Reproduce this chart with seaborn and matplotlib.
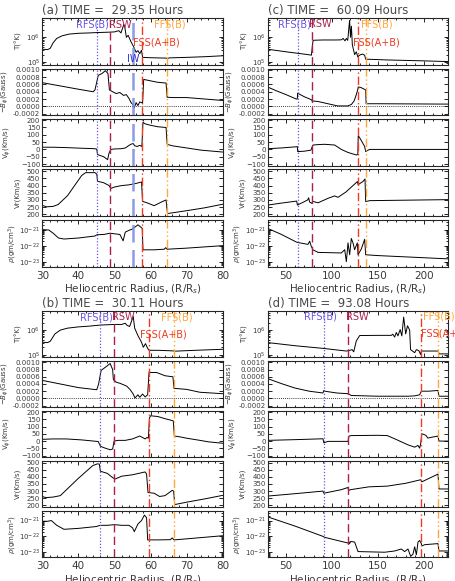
import numpy as np
import seaborn as sns
import matplotlib.pyplot as plt
from matplotlib.ticker import MultipleLocator, FixedLocator, FormatStrFormatter

# ---- panel (a) 29.35 h ----
a_T_r = [30, 31.5, 32.2, 33, 34, 35.5, 37.5, 40, 43, 45, 48, 50, 51.2, 51.8, 52.6, 52.9, 53.3, 53.8, 54.5,
         55.3, 56, 56.5, 57, 57.5, 57.8, 60, 64.3, 64.6, 65.2, 70, 75, 80]
a_T = [3.3e5, 3.2e5, 3.6e5, 6e5, 9e5, 1.15e6, 1.35e6, 1.45e6, 1.5e6, 1.55e6, 1.6e6, 1.65e6, 1.85e6, 1.5e6,
       3.3e6, 2.4e6, 1.0e6, 1.2e6, 7e5, 4.2e5, 2.5e5, 2.9e5, 2.2e5, 3.0e5, 1.55e5, 1.5e5, 1.45e5, 1.38e5,
       1.48e5, 1.55e5, 1.65e5, 1.8e5]
a_B_r = [30, 35, 40, 44.1, 44.6, 45.5, 46.5, 47.5, 48.2, 48.6, 49.5, 50.5, 51.5, 52.5, 53.3, 54, 54.6, 55.1,
         55.5, 56, 56.5, 57, 57.5, 57.8, 58.1, 60, 62, 64.3, 64.6, 66, 70, 75, 80]
a_B = [0.00065, 0.00056, 0.00047, 0.0004, 0.00045, 0.00085, 0.0009, 0.00098, 0.0009, 0.00045, 0.0004,
       0.00035, 0.00038, 0.0003, 0.00032, 0.00022, 0.0001, 0.00005, -0.00004, 0.0001, 0.00002, 0.00012,
       0.0001, 0.0001, 0.00074, 0.0007, 0.00066, 0.00064, 0.00025, 0.00024, 0.00024, 0.0002, 0.00016]
a_V_r = [30, 33, 37, 41, 44.5, 45.1, 45.3, 47, 48.1, 48.5, 49, 50, 52, 53, 54.5, 55.2, 55.6, 56.3, 57, 57.6,
         57.9, 58.5, 60, 62, 64.3, 64.6, 66, 70, 74, 80]
a_V = [15, 15, 12, 8, 5, 2, -35, -50, -70, -25, 0, 3, 5, 10, 35, 40, 25, 20, 28, 20, 185, 175, 165, 155, 150,
       35, 25, 10, -5, -18]
a_Vr_r = [30, 31.2, 33, 34.4, 37, 40.9, 42, 44.6, 45.1, 45.3, 47, 48.5, 49, 50, 52, 54, 56, 57.5, 57.8, 59,
          61, 63, 64.3, 64.5, 64.7, 70, 75, 80]
a_Vr = [262, 252, 255, 268, 330, 470, 490, 490, 480, 430, 420, 400, 380, 390, 400, 405, 415, 425, 290, 280,
        260, 285, 300, 250, 205, 225, 245, 270]
a_rho_r = [30, 31.8, 33, 34.5, 36, 40, 44.6, 45.1, 47, 48.8, 50, 51.5, 52.4, 53, 54, 55, 56.5, 57.2, 57.7,
           57.9, 61, 63.8, 64.2, 64.6, 70, 80]
a_rho = [1.0e-21, 9.5e-22, 6e-22, 3e-22, 2.6e-22, 3e-22, 4e-22, 4.8e-22, 5e-22, 6e-22, 5.5e-22, 5e-22, 2e-22,
         7e-22, 9e-22, 1.1e-21, 2e-21, 1.5e-21, 1.2e-21, 5.5e-23, 5.5e-23, 6e-23, 7.5e-23, 6e-23, 7e-23, 1e-22]

# ---- panel (b) 30.11 h ----
b_T_r = [30, 31.5, 32.2, 33.5, 35, 37, 40, 43, 46, 48, 50, 52, 53, 53.4, 54.2, 55.2, 55.6, 56.5, 57.5, 58,
         58.6, 59.2, 59.6, 62, 66.3, 66.6, 70, 75, 80]
b_T = [3.2e5, 3.1e5, 3.5e5, 7e5, 1.0e6, 1.2e6, 1.35e6, 1.45e6, 1.6e6, 1.65e6, 1.7e6, 1.7e6, 1.9e6, 1.6e6,
       1.4e6, 3.6e6, 1.2e6, 6e5, 3.2e5, 2.0e5, 2.8e5, 1.8e5, 1.5e5, 1.5e5, 1.42e5, 1.38e5, 1.45e5, 1.55e5, 1.65e5]
b_B_r = [30, 35, 40, 45.1, 45.6, 46.3, 47.4, 48.8, 49.5, 49.7, 50.5, 51.5, 52.5, 53.4, 54.3, 55.2, 55.7, 56.5,
         57, 57.8, 58.5, 59.2, 59.6, 60, 61.7, 64, 66.2, 66.5, 70, 73.7, 80]
b_B = [0.0005, 0.0004, 0.0003, 0.00024, 0.0004, 0.00078, 0.00086, 0.00097, 0.0008, 0.00052, 0.00045, 0.00042,
       0.00038, 0.00034, 0.00025, 0.00012, 0.00001, 0.0001, 0.00003, 0.00012, 0.00004, 0.0001, 0.00074,
       0.00072, 0.00072, 0.00063, 0.0006, 0.00028, 0.00025, 0.00017, 0.00013]
b_V_r = [30, 33, 36.6, 41, 45.5, 46.1, 47, 48.8, 49.5, 49.9, 51, 53, 55, 57, 58.5, 59, 59.4, 59.7, 60, 62, 64,
         66.3, 66.6, 68, 70, 73.7, 76, 80]
b_V = [12, 15, 15, 8, -3, -35, -45, -60, -55, 0, 5, 5, 15, 35, 15, 25, 20, 160, 175, 170, 155, 140, 35, 30, 20,
       5, -5, -15]
b_Vr_r = [30, 31, 33, 35, 40, 44, 45.3, 45.8, 46.1, 48, 49.5, 50.2, 52, 55, 58.5, 58.9, 59.3, 61, 62.5, 64, 66,
          66.4, 66.7, 70, 75, 80]
b_Vr = [262, 254, 258, 268, 390, 480, 492, 490, 440, 425, 395, 385, 405, 415, 435, 420, 290, 285, 262, 268,
        305, 300, 205, 222, 245, 270]
b_rho_r = [30, 31.5, 32.5, 34, 36, 40, 45, 46, 48, 50, 52, 54, 55, 55.5, 56.5, 57.5, 58.3, 58.9, 59.2, 62, 65.5,
           66, 66.5, 70, 80]
b_rho = [9e-22, 9e-22, 1e-21, 5e-22, 2.8e-22, 3.2e-22, 4.2e-22, 5e-22, 5e-22, 5.5e-22, 5e-22, 5e-22, 3.5e-22,
         2e-22, 6e-22, 1.0e-21, 2.2e-21, 1.5e-21, 6e-23, 6e-23, 6.2e-23, 8e-23, 6e-23, 7e-23, 1.1e-22]

# ---- panel (c) 60.09 h ----
c_T_r = [30, 50, 74, 77.5, 79.2, 80, 90, 105, 110, 112, 114, 115.5, 117, 119, 120, 121, 122, 124.5, 126.3, 128,
         129, 131, 133, 135.4, 136.5, 140, 160, 200, 226]
c_T = [3.3e5, 2.6e5, 2.0e5, 1.9e5, 7.0e5, 7.6e5, 7.8e5, 7.8e5, 7.9e5, 9e5, 7.2e5, 9e5, 7.5e5, 4.8e6, 1.0e6,
       2.8e6, 5e5, 2.0e5, 2.6e5, 1.6e5, 1.8e5, 2.0e5, 2.1e5, 1.9e5, 1.3e5, 1.3e5, 1.22e5, 1.12e5, 1.05e5]
c_B_r = [30, 40, 50, 61, 62.2, 62.5, 70, 77.5, 78.2, 85, 95.5, 106, 117, 121, 124, 126.3, 127.8, 128.4, 131, 135,
         136.5, 137, 150, 226]
c_B = [0.00053, 0.00042, 0.00032, 0.0002, 0.0002, 0.00036, 0.00026, 0.00018, 0.00015, 0.00013, 0.00007,
       0.00001, 0.00001, 0.00005, 0.00015, 0.00032, 0.00045, 0.00053, 0.00052, 0.00047, 0.00045, 0.00007,
       0.00007, 0.00006]
c_V_r = [30, 45, 61, 62.2, 62.6, 70, 77, 78.2, 79.2, 85, 92, 102.8, 110, 117, 122, 126.3, 128, 128.4, 129.5,
         131.8, 135.4, 136.5, 139, 141, 226]
c_V = [5, 10, 18, 20, -15, -12, -5, 15, 30, 33, 35, 30, 0, -20, -30, -38, -35, 90, 85, 60, 20, -15, -5, 0, 0]
c_Vr_r = [30, 45, 61.5, 62.3, 69.8, 73.5, 74.5, 75.6, 78, 79, 84.7, 95.5, 102.8, 106.4, 115, 127.5, 128.3,
          133.6, 135.8, 136.5, 140.8, 226]
c_Vr = [264, 278, 292, 264, 288, 300, 315, 285, 276, 290, 280, 311, 328, 318, 355, 428, 406, 429, 446, 288,
        295, 302]
c_rho_r = [30, 45, 61, 62.3, 73.8, 75.6, 77.4, 79.2, 84.7, 110, 113.7, 115.5, 117.3, 119.1, 120.9, 122.7,
           124.5, 127.4, 128.2, 131.8, 135.4, 136.5, 150, 226]
c_rho = [1.2e-21, 5e-22, 1.7e-22, 1.6e-22, 1.2e-22, 1.9e-22, 9e-23, 5.5e-23, 3.8e-23, 3.5e-23, 5.6e-23,
         1.0e-23, 1.5e-22, 2.7e-23, 2.8e-22, 1.5e-22, 5.6e-23, 1.5e-22, 2.7e-23, 6.3e-23, 2.5e-22, 2.7e-23,
         2.4e-23, 1.5e-23]

# ---- panel (d) 93.08 h ----
d_T_r = [30, 60, 90, 115.5, 118, 121.8, 123.5, 126.3, 130, 150, 164.4, 166, 168, 169.8, 171.6, 174, 175.8,
         177.8, 180, 182, 184.3, 185.3, 189.8, 191.6, 194.3, 196.3, 197, 205, 215.5, 216.2, 226]
d_T = [3.1e5, 2.3e5, 1.8e5, 1.4e5, 1.45e5, 1.6e5, 1.3e5, 3.6e5, 6e5, 6.1e5, 6.1e5, 6.8e5, 5.2e5, 8e5, 5.8e5,
       1.05e6, 5.8e5, 3.4e6, 7e5, 1.5e6, 1.0e6, 1.6e5, 1.2e5, 1.6e5, 1.45e5, 1.0e5, 1.4e5, 1.4e5, 1.4e5,
       1.07e5, 1.07e5]
d_B_r = [30, 45, 59.3, 75, 90.1, 91, 92, 105, 117.3, 120.9, 150, 182.5, 189.8, 195.2, 197, 205, 215.1, 216.2, 226]
d_B = [0.00055, 0.00041, 0.00029, 0.0002, 0.00015, 0.00022, 0.0002, 0.00015, 0.00013, 0.00008, 0.00006,
       0.00006, 0.00007, 0.0001, 0.0002, 0.0002, 0.00022, 0.00006, 0.00006]
d_V_r = [30, 60, 90.1, 91, 95.5, 117.3, 118.4, 120.9, 150, 160, 168, 182.5, 189.8, 193.4, 195.2, 196.3, 197.5,
         202, 204, 207, 215.1, 216.2, 226]
d_V = [5, 10, 16, -12, -2, -2, 35, 38, 40, 38, 16, -26, -42, -30, -49, -19, 51, 40, 21, 25, 35, 0, 0]
d_Vr_r = [30, 60, 90.1, 91, 110, 117, 118.2, 120, 140, 160, 180, 196.3, 197.5, 215.1, 216.2, 226]
d_Vr = [265, 282, 300, 285, 310, 325, 305, 310, 330, 335, 355, 380, 365, 420, 315, 315]
d_rho_r = [30, 60, 90.1, 92, 117.3, 118, 119.1, 120.2, 124.5, 128.2, 157.2, 168, 175.2, 178.9, 182.5, 185.4,
           187.9, 189.8, 191.6, 193.4, 195.2, 197, 197.7, 200.7, 215.1, 216.2, 226]
d_rho = [1.7e-21, 4.4e-22, 1.0e-22, 8.7e-23, 3.8e-23, 4.8e-23, 3.5e-23, 4.8e-23, 4.4e-23, 1.1e-23, 1.0e-23,
         1.2e-23, 1.6e-23, 1.1e-23, 1.6e-23, 5.5e-24, 7.6e-24, 2.2e-23, 6.9e-24, 4.4e-23, 5.5e-23, 3.5e-23,
         2.5e-23, 3.0e-23, 3.5e-23, 1.2e-23, 1.2e-23]

# front positions: RFS(B), RSW, IW, FSS(A+B), FFS(B)
front_names = ["RFS(B)", "RSW", "IW", "FSS(A+B)", "FFS(B)"]
a_fronts = [45.1, 48.8, 55.2, 57.7, 64.5]
b_fronts = [46.0, 50.0, None, 59.6, 66.5]
c_fronts = [62.4, 78.5, None, 128.4, 137.0]
d_fronts = [91.0, 117.5, None, 196.5, 215.5]

titles = ["(a) TIME =  29.35 Hours", "(b) TIME =  30.11 Hours",
          "(c) TIME =  60.09 Hours", "(d) TIME =  93.08 Hours"]

ylabels = ["T(°K)", r"$-B_\phi$(Gauss)", r"V$_\phi$(Km/s)", "Vr(Km/s)", r"$\rho$(gm/cm$^3$)"]

front_colors = ["#6a55e0", "#a8204e", "#8090e0", "#f03a22", "#ffa73a"]
front_styles = [(0, (1, 1.5)), (0, (6, 3)), (0, (7, 3)), (0, (6, 2, 1, 2)), (0, (6, 2, 1, 2, 1, 2))]
front_widths = [0.9, 1.0, 1.8, 1.0, 1.0]

sns.set_style("ticks")
plt.rcParams["font.family"] = ["DejaVu Sans"]

W, H = 455, 581
fig = plt.figure(figsize=(W / 100, H / 100), dpi=100)

ink = "#3a3a3a"


def add_ax(left, top, width, height):
    return fig.add_axes([left / W, 1 - (top + height) / H, width / W, height / H])


def draw_panel(left, width, tops, height, title, data, fronts, labels, xlim, xmajor, xminor):
    axes = []
    for k, (r, v) in enumerate(data):
        ax = add_ax(left, tops[k], width, height)
        sns.lineplot(x=r, y=v, ax=ax, color="black", lw=0.7, estimator=None, sort=False)
        ax.set_xlim(*xlim)
        ax.xaxis.set_major_locator(MultipleLocator(xmajor))
        ax.xaxis.set_minor_locator(MultipleLocator(xminor))
        if k == 0:
            ax.set_yscale("log")
            ax.set_ylim(8e4, 6e6)
            ax.yaxis.set_major_locator(FixedLocator([1e5, 1e6]))
        elif k == 1:
            ax.set_ylim(-0.00024, 0.00104)
            ax.set_yticks(np.arange(-0.0002, 0.00101, 0.0002))
            ax.yaxis.set_major_formatter(FormatStrFormatter("%.4f"))
            ax.axhline(0, color="black", lw=0.6, ls=(0, (1, 1.5)))
        elif k == 2:
            ax.set_ylim(-110, 208)
            ax.set_yticks(np.arange(-100, 201, 50))
        elif k == 3:
            ax.set_ylim(188, 512)
            ax.set_yticks(np.arange(200, 501, 50))
        else:
            ax.set_yscale("log")
            ax.set_ylim(5e-24, 4e-21)
            ax.yaxis.set_major_locator(FixedLocator([1e-23, 1e-22, 1e-21]))
        ax.tick_params(which="both", direction="in", top=True, right=True, width=0.6,
                       colors="black", labelcolor=ink)
        ax.tick_params(which="major", length=3)
        ax.tick_params(which="minor", length=1.6)
        ax.tick_params(axis="y", labelsize=5, pad=1.5)
        ax.tick_params(axis="x", labelsize=7.5, pad=3)
        for s in ax.spines.values():
            s.set_linewidth(0.8)
        ax.set_ylabel(ylabels[k], fontsize=5, color=ink, labelpad=0)
        ax.yaxis.set_label_coords([-0.11, -0.175, -0.16, -0.12, -0.13][k], 0.5)
        if k < 4:
            ax.tick_params(axis="x", labelbottom=False)
            ax.set_xlabel("")
        else:
            ax.set_xlabel(r"Heliocentric Radius, (R/R$_s$)", fontsize=7.5, color=ink, labelpad=1.5)
        for j, pos in enumerate(fronts):
            if pos is None:
                continue
            ax.axvline(pos, color=front_colors[j], ls=front_styles[j], lw=front_widths[j],
                       alpha=0.9 if j == 2 else 1)
        axes.append(ax)
    top_ax = axes[0]
    top_ax.set_title(title, loc="left", fontsize=8.5, color="#4a4a4a", pad=3)
    trans = top_ax.get_xaxis_transform()
    for j, (lx, ly, ha) in enumerate(labels):
        if lx is None:
            continue
        top_ax.text(lx, ly, front_names[j], transform=trans, ha=ha, va="center",
                    fontsize=7, color=front_colors[j] if j != 2 else "#2f34c8", clip_on=False)
    return axes


top_block = [18, 68.5, 119, 169.5, 220]
bot_block = [311, 361, 411, 461, 511]

draw_panel(42.3, 180.4, top_block, 46.5, titles[0],
           [(a_T_r, a_T), (a_B_r, a_B), (a_V_r, a_V), (a_Vr_r, a_Vr), (a_rho_r, a_rho)], a_fronts,
           [(43.8, 0.86, "center"), (51.5, 0.86, "center"), (55.1, 0.12, "center"),
            (61.7, 0.48, "center"), (65.4, 0.86, "center")],
           (30, 80), 10, 2)
draw_panel(42.3, 180.4, bot_block, 46, titles[1],
           [(b_T_r, b_T), (b_B_r, b_B), (b_V_r, b_V), (b_Vr_r, b_Vr), (b_rho_r, b_rho)], b_fronts,
           [(44.9, 0.86, "center"), (52.5, 0.86, "center"), (None, 0, "center"),
            (63.5, 0.48, "center"), (67.3, 0.86, "center")],
           (30, 80), 10, 2)
draw_panel(267.7, 180.3, top_block, 46.5, titles[2],
           [(c_T_r, c_T), (c_B_r, c_B), (c_V_r, c_V), (c_Vr_r, c_Vr), (c_rho_r, c_rho)], c_fronts,
           [(58.6, 0.87, "center"), (87.4, 0.87, "center"), (None, 0, "center"),
            (148.3, 0.48, "center"), (148.8, 0.87, "center")],
           (30, 226), 50, 10)
draw_panel(267.7, 180.3, bot_block, 46, titles[3],
           [(d_T_r, d_T), (d_B_r, d_B), (d_V_r, d_V), (d_Vr_r, d_Vr), (d_rho_r, d_rho)], d_fronts,
           [(87.4, 0.88, "center"), (127.6, 0.88, "center"), (None, 0, "center"),
            (196.5, 0.5, "left"), (215.7, 0.88, "center")],
           (30, 226), 50, 10)

fig.savefig("out.png", dpi=100)
